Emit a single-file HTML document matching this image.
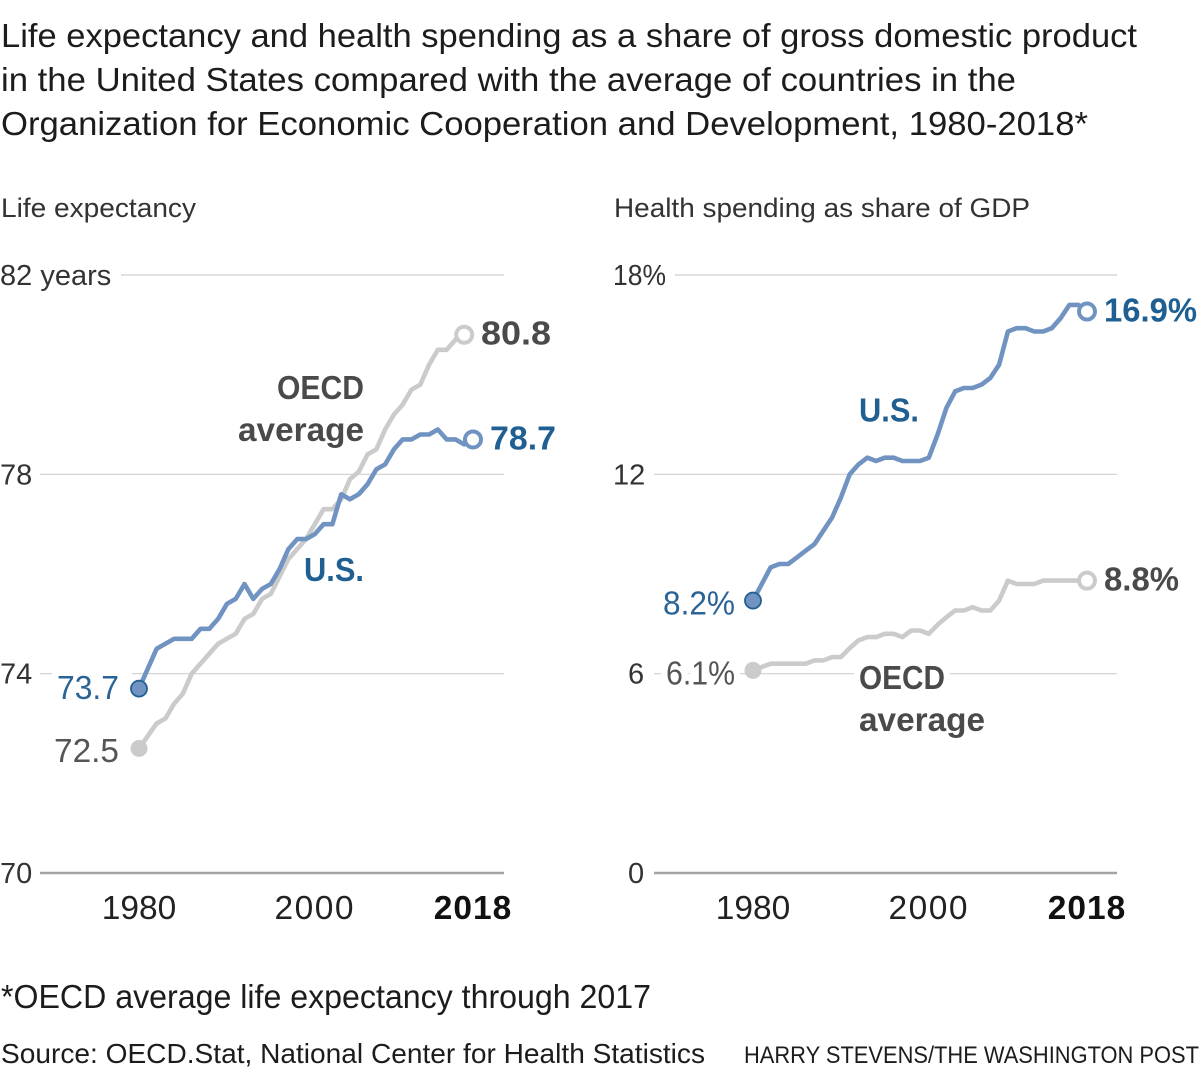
<!DOCTYPE html>
<html lang="en">
<head>
<meta charset="utf-8">
<title>Life expectancy and health spending</title>
<style>
html,body{margin:0;padding:0;background:#fff;width:1200px;height:1070px;overflow:hidden}
svg{display:block;position:absolute;left:0;top:0}
text{font-family:"Liberation Sans",Arial,sans-serif}
.halo{paint-order:stroke;stroke:#fff;stroke-width:14px;stroke-linejoin:round}
</style>
</head>
<body>
<svg id="chart" width="1200" height="1070" viewBox="0 0 1200 1070" xmlns="http://www.w3.org/2000/svg">
  <rect width="1200" height="1070" fill="#fff"/>
  <g font-size="33" fill="#1c1c1c">
    <text x="1" y="47" textLength="1136" lengthAdjust="spacingAndGlyphs">Life expectancy and health spending as a share of gross domestic product</text>
    <text x="1" y="91" textLength="1015" lengthAdjust="spacingAndGlyphs">in the United States compared with the average of countries in the</text>
    <text x="1" y="135" textLength="1087" lengthAdjust="spacingAndGlyphs">Organization for Economic Cooperation and Development, 1980-2018*</text>
  </g>
  <text x="1" y="217" font-size="27" fill="#333" textLength="195" lengthAdjust="spacingAndGlyphs">Life expectancy</text>
  <text x="614" y="217" font-size="27" fill="#333" textLength="416" lengthAdjust="spacingAndGlyphs">Health spending as share of GDP</text>

  <g id="grid-layer"></g>

  <g font-size="33">
    <rect x="52" y="668" width="80" height="12" fill="#fff"/>
    <text x="57" y="699" fill="#2a6496" textLength="62" lengthAdjust="spacingAndGlyphs">73.7</text>
    <text x="54" y="762" fill="#555" textLength="65" lengthAdjust="spacingAndGlyphs">72.5</text>
    <text x="481" y="344.5" fill="#4a4a4a" font-weight="700" textLength="70" lengthAdjust="spacingAndGlyphs">80.8</text>
    <text x="490" y="449.5" fill="#1f5f92" font-weight="700" textLength="66" lengthAdjust="spacingAndGlyphs">78.7</text>
    <text x="277" y="399" fill="#4a4a4a" font-weight="700" textLength="87" lengthAdjust="spacingAndGlyphs">OECD</text>
    <text x="238" y="441" fill="#4a4a4a" font-weight="700" textLength="126" lengthAdjust="spacingAndGlyphs">average</text>
    <text x="304" y="581" fill="#1f5f92" font-weight="700" textLength="60" lengthAdjust="spacingAndGlyphs">U.S.</text>
  </g>
  <g font-size="33">
    <text x="663" y="614.5" fill="#2a6496" textLength="72" lengthAdjust="spacingAndGlyphs">8.2%</text>
    <text class="halo" x="666" y="684.5" fill="#555" textLength="69" lengthAdjust="spacingAndGlyphs">6.1%</text>
    <text x="1104" y="321.5" fill="#1f5f92" font-weight="700" textLength="93" lengthAdjust="spacingAndGlyphs">16.9%</text>
    <text x="1104" y="590.5" fill="#4a4a4a" font-weight="700" textLength="75" lengthAdjust="spacingAndGlyphs">8.8%</text>
    <text x="859" y="421.5" fill="#1f5f92" font-weight="700" textLength="60" lengthAdjust="spacingAndGlyphs">U.S.</text>
    <text class="halo" x="859" y="689" fill="#4a4a4a" font-weight="700" textLength="86" lengthAdjust="spacingAndGlyphs">OECD</text>
    <text x="859" y="731" fill="#4a4a4a" font-weight="700" textLength="126" lengthAdjust="spacingAndGlyphs">average</text>
  </g>

  <g id="series-layer"></g>

  <text x="1" y="1008" font-size="33" fill="#1c1c1c" textLength="650" lengthAdjust="spacingAndGlyphs">*OECD average life expectancy through 2017</text>
  <text x="1" y="1063" font-size="28" fill="#1c1c1c" textLength="704" lengthAdjust="spacingAndGlyphs">Source: OECD.Stat, National Center for Health Statistics</text>
  <text x="744" y="1063" font-size="24" fill="#1c1c1c" textLength="455" lengthAdjust="spacingAndGlyphs">HARRY STEVENS/THE WASHINGTON POST</text>
</svg>
<script>
const years = [1980,1981,1982,1983,1984,1985,1986,1987,1988,1989,1990,1991,1992,1993,1994,1995,1996,1997,1998,1999,2000,2001,2002,2003,2004,2005,2006,2007,2008,2009,2010,2011,2012,2013,2014,2015,2016,2017,2018];
const usLife = [73.7,74.1,74.5,74.6,74.7,74.7,74.7,74.9,74.9,75.1,75.4,75.5,75.8,75.5,75.7,75.8,76.1,76.5,76.7,76.7,76.8,77.0,77.0,77.6,77.5,77.6,77.8,78.1,78.2,78.5,78.7,78.7,78.8,78.8,78.9,78.7,78.7,78.6,78.7];
const oecdLife = [72.5,72.75,73.0,73.1,73.4,73.6,74.0,74.2,74.4,74.6,74.7,74.8,75.1,75.2,75.5,75.6,75.95,76.3,76.5,76.7,77.0,77.3,77.3,77.5,77.9,78.05,78.4,78.5,78.9,79.2,79.4,79.7,79.8,80.2,80.5,80.5,80.7,80.8];
const usSpend = [8.2,8.7,9.2,9.3,9.3,9.5,9.7,9.9,10.3,10.7,11.3,12.0,12.3,12.5,12.4,12.5,12.5,12.4,12.4,12.4,12.5,13.2,14.0,14.5,14.6,14.6,14.7,14.9,15.3,16.3,16.4,16.4,16.3,16.3,16.4,16.7,17.1,17.1,16.9];
const oecdSpend = [6.1,6.2,6.3,6.3,6.3,6.3,6.3,6.4,6.4,6.5,6.5,6.77,7.0,7.1,7.1,7.2,7.2,7.1,7.3,7.3,7.2,7.47,7.7,7.9,7.9,8.0,7.9,7.9,8.2,8.8,8.7,8.7,8.7,8.8,8.8,8.8,8.8,8.8,8.8];
const lifeTicks = [82,78,74,70];
const lifeTickLabels = ['82 years','78','74','70'];
const spendTicks = [18,12,6,0];
const spendTickLabels = ['18%','12','6','0'];
const yearTicks = [1980,2000,2018];
const yearTickLabels = ['1980','2000','2018'];

const NS = 'http://www.w3.org/2000/svg';
const gridLayer = document.getElementById('grid-layer');
const seriesLayer = document.getElementById('series-layer');

const xLife = y => 139 + (y - 1980) * (334 / 38);
const yLife = v => 873 - (v - 70) * (598 / 12);
const xSpend = y => 753 + (y - 1980) * (334 / 38);
const ySpend = v => 873 - v * (598 / 18);

function drawAxes(ticks, labels, xScale, yScale, leftX, gridLeft, gridFirst, gridRight, panel) {
  ticks.forEach((t, i) => {
    const line = document.createElementNS(NS, 'line');
    
    
    const isBase = i === ticks.length - 1;
    line.setAttribute('x1', i === 0 ? gridFirst : gridLeft);
    line.setAttribute('x2', gridRight);
    line.setAttribute('y1', yScale(t));
    line.setAttribute('y2', yScale(t));
    line.setAttribute('stroke', isBase ? '#a3a3a3' : '#cfcfcf');
    line.setAttribute('stroke-width', isBase ? 2.4 : 1.2);
    gridLayer.appendChild(line);

    const txt = document.createElementNS(NS, 'text');
    
    
    const single = labels[i].length === 1;
    txt.setAttribute('x', single ? leftX + 15 : leftX);
    txt.setAttribute('y', yScale(t) + 10);
    txt.setAttribute('font-size', '29');
    txt.setAttribute('fill', '#333');
    if (labels[i].endsWith('%')) {
      txt.setAttribute('textLength', '53');
      txt.setAttribute('lengthAdjust', 'spacingAndGlyphs');
    }
    txt.textContent = labels[i];
    gridLayer.appendChild(txt);
  });
  yearTicks.forEach((y, i) => {
    const txt = document.createElementNS(NS, 'text');
    
    
    const last = i === yearTicks.length - 1;
    txt.setAttribute('x', xScale(y));
    txt.setAttribute('y', 919);
    txt.setAttribute('text-anchor', 'middle');
    txt.setAttribute('font-size', '33.5');
    txt.setAttribute('font-weight', last ? '700' : '400');
    txt.setAttribute('fill', last ? '#111' : '#222');
    txt.setAttribute('letter-spacing', last ? '1' : (i === 1 ? '1.5' : '0'));
    txt.textContent = yearTickLabels[i];
    gridLayer.appendChild(txt);
  });
}

function drawLine(values, xScale, yScale, color, name) {
  const pts = values.map((v, i) => xScale(years[i]).toFixed(1) + ',' + yScale(v).toFixed(1)).join(' ');
  const line = document.createElementNS(NS, 'polyline');
  
  
  line.setAttribute('points', pts);
  line.setAttribute('fill', 'none');
  line.setAttribute('stroke', color);
  line.setAttribute('stroke-width', 4.6);
  line.setAttribute('stroke-linejoin', 'round');
  seriesLayer.appendChild(line);

  const start = document.createElementNS(NS, 'circle');
  
  
  start.setAttribute('cx', xScale(years[0]));
  start.setAttribute('cy', yScale(values[0]));
  start.setAttribute('r', color === GREY ? 8.5 : 8);
  start.setAttribute('fill', color);
  start.setAttribute('stroke', color === GREY ? GREY : '#245f92');
  start.setAttribute('stroke-width', color === GREY ? 0 : 1.8);
  seriesLayer.appendChild(start);

  const n = values.length - 1;
  const end = document.createElementNS(NS, 'circle');
  
  
  end.setAttribute('cx', xScale(years[n]));
  end.setAttribute('cy', yScale(values[n]));
  end.setAttribute('r', 8);
  end.setAttribute('fill', '#fff');
  end.setAttribute('stroke', color);
  end.setAttribute('stroke-width', 4);
  seriesLayer.appendChild(end);
}

const BLUE = '#7193c1';
const GREY = '#cbcbcb';

drawAxes(lifeTicks, lifeTickLabels, xLife, yLife, 0, 40, 121, 504, 'life');
drawAxes(spendTicks, spendTickLabels, xSpend, ySpend, 613, 654, 675, 1117, 'spending');
drawLine(oecdLife, xLife, yLife, GREY, 'oecd-life-expectancy');
drawLine(usLife, xLife, yLife, BLUE, 'us-life-expectancy');
drawLine(oecdSpend, xSpend, ySpend, GREY, 'oecd-spending');
drawLine(usSpend, xSpend, ySpend, BLUE, 'us-spending');
</script>
</body>
</html>
